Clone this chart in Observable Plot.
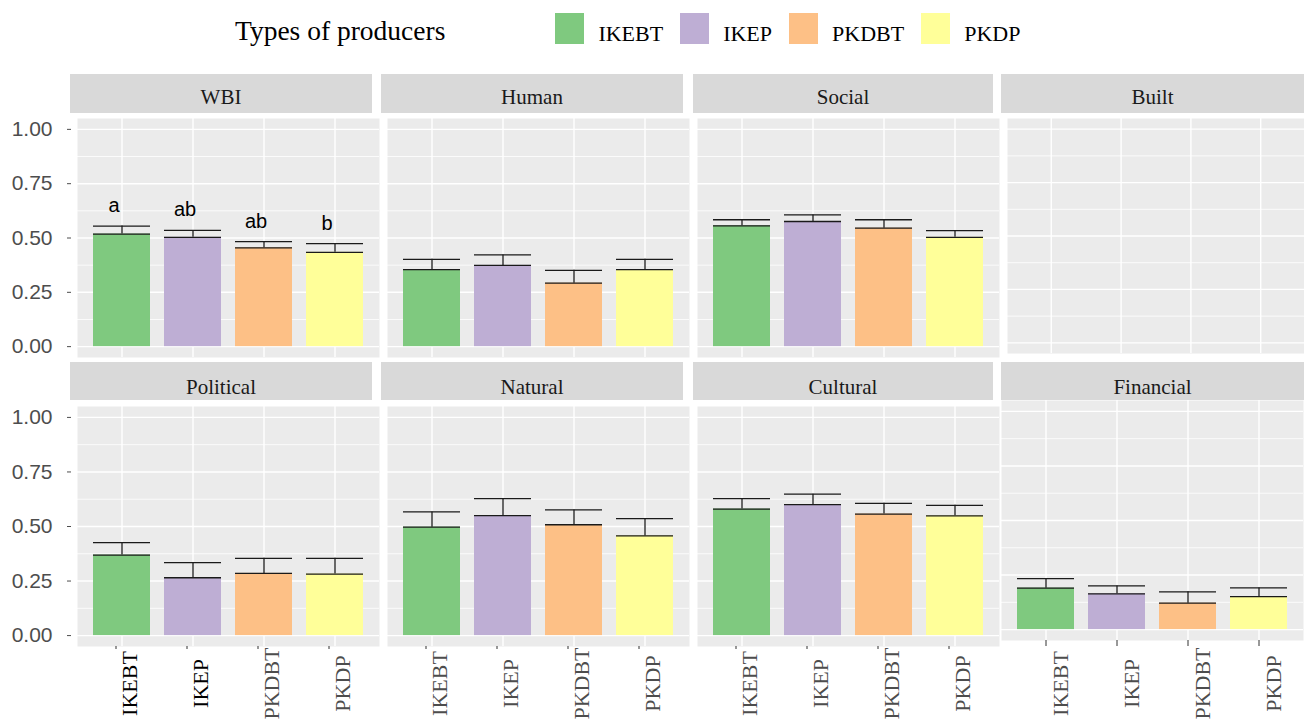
<!DOCTYPE html>
<html>
<head>
<meta charset="utf-8">
<script src="https://cdn.jsdelivr.net/npm/d3@7"></script>
<script src="https://cdn.jsdelivr.net/npm/@observablehq/plot@0.6"></script>
<style>
html,body{margin:0;padding:0;background:#fff;}
#root{position:relative;width:1304px;height:720px;overflow:hidden;background:#fff;}
.strip{position:absolute;background:#D9D9D9;box-sizing:border-box;text-align:center;font-family:"Liberation Serif","Times New Roman",serif;font-size:21px;line-height:21px;color:#1A1A1A;white-space:nowrap;}
.panel{position:absolute;}
.panel svg{overflow:visible;}
.legend{position:absolute;left:235px;top:0;display:flex;align-items:flex-start;font-family:"Liberation Serif","Times New Roman",serif;color:#000;white-space:nowrap;}
.legend .title{font-size:27.5px;line-height:27px;margin-top:17px;margin-right:110px;}
.legend .key{width:29px;height:31px;margin-top:13px;margin-right:14px;}
.legend .lab{font-size:22px;line-height:22px;margin-top:23px;margin-right:17px;}
</style>
</head>
<body>
<div id="root"></div>
<script>
// ---- data ----
const groups = ["IKEBT", "IKEP", "PKDBT", "PKDP"];
const groupColors = ["#7FC97F", "#BEAED4", "#FDC086", "#FFFF99"];
const facets = ["WBI", "Human", "Social", "Built", "Political", "Natural", "Cultural", "Financial"];
const yTicks = [0, 0.25, 0.5, 0.75, 1];
const yMinor = [0.125, 0.375, 0.625, 0.875];
const legendTitle = "Types of producers";

const wbiMean = [0.518, 0.503, 0.455, 0.434];
const wbiUpper = [0.555, 0.535, 0.483, 0.474];
const wbiLetters = ["a", "ab", "ab", "b"];
const humanMean = [0.354, 0.374, 0.292, 0.354];
const humanUpper = [0.402, 0.422, 0.351, 0.402];
const socialMean = [0.556, 0.576, 0.545, 0.503];
const socialUpper = [0.584, 0.606, 0.584, 0.534];
const builtMean = [];
const builtUpper = [];
const politicalMean = [0.369, 0.265, 0.285, 0.282];
const politicalUpper = [0.426, 0.334, 0.354, 0.354];
const naturalMean = [0.497, 0.55, 0.508, 0.457];
const naturalUpper = [0.567, 0.628, 0.576, 0.536];
const culturalMean = [0.58, 0.6, 0.557, 0.549];
const culturalUpper = [0.628, 0.648, 0.606, 0.597];
const financialMean = [0.19, 0.164, 0.121, 0.151];
const financialUpper = [0.234, 0.2, 0.173, 0.191];

const seriesMean = {WBI: wbiMean, Human: humanMean, Social: socialMean, Built: builtMean,
  Political: politicalMean, Natural: naturalMean, Cultural: culturalMean, Financial: financialMean};
const seriesUpper = {WBI: wbiUpper, Human: humanUpper, Social: socialUpper, Built: builtUpper,
  Political: politicalUpper, Natural: naturalUpper, Cultural: culturalUpper, Financial: financialUpper};

// ---- layout ----
const layout = {
  WBI:       {col: 0, row: 0, px: 77,   py: 118, ph: 239, sx: 70,   sy: 74,  sw: 302, sh: 39, pad: 13},
  Human:     {col: 1, row: 0, px: 387,  py: 118, ph: 239, sx: 381,  sy: 74,  sw: 302, sh: 39, pad: 13},
  Social:    {col: 2, row: 0, px: 697,  py: 118, ph: 239, sx: 693,  sy: 74,  sw: 300, sh: 39, pad: 13},
  Built:     {col: 3, row: 0, px: 1007, py: 118, ph: 239, sx: 1001, sy: 74,  sw: 303, sh: 39, pad: 13},
  Political: {col: 0, row: 1, px: 77,   py: 406, ph: 240, sx: 70,   sy: 362, sh: 38, sw: 302, pad: 15},
  Natural:   {col: 1, row: 1, px: 387,  py: 406, ph: 240, sx: 381,  sy: 362, sh: 38, sw: 302, pad: 15},
  Cultural:  {col: 2, row: 1, px: 697,  py: 406, ph: 240, sx: 693,  sy: 362, sh: 38, sw: 300, pad: 15},
  Financial: {col: 3, row: 1, px: 1001, py: 400, ph: 240, sx: 1001, sy: 362, sh: 38, sw: 303, pad: 15}
};
const xLabelCenterY = 683;

const root = document.getElementById("root");

// legend
const legend = document.createElement("div");
legend.className = "legend";
const lt = document.createElement("div");
lt.className = "title"; lt.textContent = legendTitle;
legend.appendChild(lt);
groups.forEach((g, i) => {
  const k = document.createElement("div");
  k.className = "key"; k.style.background = groupColors[i];
  const t = document.createElement("div");
  t.className = "lab"; t.textContent = g;
  legend.appendChild(k); legend.appendChild(t);
});
root.appendChild(legend);

function panel(name) {
  const L = layout[name];
  const mean = seriesMean[name], upper = seriesUpper[name];
  const data = mean.map((m, i) => ({group: groups[i], mean: m, upper: upper[i]}));
  const ml = L.col === 0 ? 77 : 0;
  const mb = L.row === 1 ? 720 - (L.py + L.ph) : 0;
  const pw = 302;
  const err = {stroke: "#1A1A1A", strokeWidth: 1.3};
  const marks = [
    Plot.frame({fill: "#EBEBEB", stroke: "none"}),
    Plot.gridY(yMinor, {stroke: "#fff", strokeOpacity: 1, strokeWidth: 0.8}),
    Plot.gridY(yTicks, {stroke: "#fff", strokeOpacity: 1, strokeWidth: 1.4}),
    Plot.gridX(groups, {stroke: "#fff", strokeOpacity: 1, strokeWidth: 1.4}),
    Plot.barY(data, {x: "group", y: "mean", fill: "group"}),
    Plot.ruleX(data, {x: "group", y1: "mean", y2: "upper", ...err}),
    Plot.tickY(data, {x: "group", y: "upper", ...err}),
    Plot.tickY(data, {x: "group", y: "mean", ...err})
  ];
  if (name === "WBI") {
    marks.push(Plot.text(data, {x: "group", y: "upper", text: (d, i) => wbiLetters[i],
      dy: -14, dx: -8, lineAnchor: "bottom", fontSize: 20, fontFamily: "Liberation Sans, Arial, sans-serif", fill: "#000"}));
  }
  if (L.col === 0) {
    marks.push(Plot.axisY(yTicks, {tickFormat: d3.format(".2f"), tickSize: 4, tickPadding: 15, dx: -6,
      fontSize: 21, fontFamily: "Liberation Sans, Arial, sans-serif", color: "#4D4D4D", label: null}));
  }
  if (L.row === 1) {
    const fin = name === "Financial";
    marks.push(Plot.axisX(groups, {tickSize: fin ? 6 : 3, dx: fin ? 0 : -6, tickFormat: () => "", color: "#333", label: null}));
    marks.push(Plot.text(groups, {x: d => d, text: d => d, frameAnchor: "bottom", rotate: -90,
      textAnchor: "middle", lineAnchor: "middle", dy: xLabelCenterY - (L.py + L.ph), dx: fin ? 15 : 8,
      fontSize: 22, fontFamily: "Liberation Serif, Times New Roman, serif",
      fill: d => (L.col === 0 && (d === "IKEBT" || d === "IKEP")) ? "#000" : "#4D4D4D"}));
  }
  const svg = Plot.plot({
    width: ml + pw, height: L.ph + mb,
    marginLeft: ml, marginRight: 0, marginTop: 0, marginBottom: mb,
    x: {domain: groups, padding: 0.2, axis: null, label: null},
    y: {domain: [-0.05, 1.05], axis: null, label: null},
    color: {domain: groups, range: groupColors},
    style: {background: "transparent", overflow: "visible"},
    marks
  });
  const div = document.createElement("div");
  div.className = "panel";
  div.style.left = (L.px - ml) + "px";
  div.style.top = L.py + "px";
  div.appendChild(svg);
  root.appendChild(div);

  const strip = document.createElement("div");
  strip.className = "strip";
  strip.style.left = L.sx + "px";
  strip.style.top = L.sy + "px";
  strip.style.width = L.sw + "px";
  strip.style.height = L.sh + "px";
  strip.style.paddingTop = L.pad + "px";
  strip.textContent = name;
  root.appendChild(strip);
}

facets.forEach(panel);
</script>
</body>
</html>
